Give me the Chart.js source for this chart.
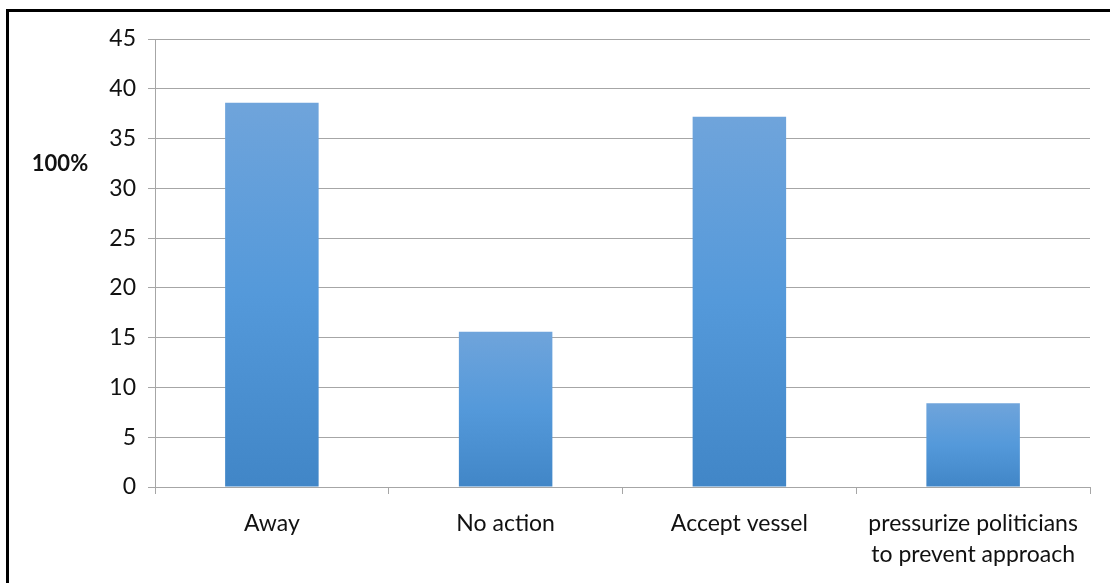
<!DOCTYPE html>
<html>
<head>
<meta charset="utf-8">
<script src="https://cdn.jsdelivr.net/npm/chart.js@4"></script>
<style>
    html, body { margin: 0; padding: 0; background: #fff; }
    #frame {
        position: absolute;
        left: 6px;
        top: 9px;
        width: 1104px;
        height: 574px;
        border-left: 3px solid #000;
        border-top: 3px solid #000;
        box-sizing: border-box;
    }
    #wrap { position: absolute; left: 0; top: 0; width: 1101px; height: 571px; }
</style>
</head>
<body>
<div id="frame">
    <div id="wrap"><canvas id="responseChart"></canvas></div>
</div>
<script>
// Chart data
const categories = ['Away', 'No action', 'Accept vessel', ['pressurize politicians', 'to prevent approach']];
const shares = [38.6, 15.6, 37.2, 8.4];
const yTicks = [0, 5, 10, 15, 20, 25, 30, 35, 40, 45];
const yLabel = '100%';

const textColor = '#111111';
const gridColor = '#a6a6a6';

// per-bar vertical gradient, lighter at the top
function barGradient(context) {
    const chart = context.chart;
    if (!chart.chartArea) return '#5499da';
    const y = chart.scales.y;
    const top = y.getPixelForValue(context.raw);
    const bottom = y.getPixelForValue(0);
    const g = chart.ctx.createLinearGradient(0, top, 0, bottom);
    g.addColorStop(0, '#6fa4db');
    g.addColorStop(0.5, '#5499da');
    g.addColorStop(1, '#4186c7');
    return g;
}

// horizontal label left of the value axis
const sideLabel = {
    id: 'sideLabel',
    afterDraw(chart) {
        const ctx = chart.ctx;
        ctx.save();
        ctx.font = 'bold 22px Lato';
        ctx.fillStyle = textColor;
        ctx.textAlign = 'center';
        ctx.textBaseline = 'middle';
        ctx.fillText(yLabel, 51, chart.scales.y.getPixelForValue(32.5));
        ctx.restore();
    }
};

new Chart(document.getElementById('responseChart'), {
    type: 'bar',
    data: {
        labels: categories,
        datasets: [{
            data: shares,
            backgroundColor: barGradient,
            borderWidth: 0,
            categoryPercentage: 1,
            barPercentage: 0.4
        }]
    },
    options: {
        responsive: true,
        maintainAspectRatio: false,
        animation: false,
        layout: { padding: { top: 27, right: 20, left: 0, bottom: 0 } },
        plugins: {
            legend: { display: false },
            tooltip: { enabled: false }
        },
        scales: {
            x: {
                grid: {
                    display: true,
                    drawOnChartArea: false,
                    drawTicks: true,
                    tickLength: 7,
                    color: gridColor,
                    offset: true
                },
                border: { display: true, color: gridColor, width: 1 },
                ticks: {
                    color: textColor,
                    font: { family: 'Lato', size: 23, lineHeight: 1.36 },
                    padding: 14,
                    maxRotation: 0,
                    autoSkip: false
                },
                afterFit(scale) { scale.height = 96; }
            },
            y: {
                min: 0,
                max: 45,
                afterBuildTicks(scale) {
                    scale.ticks = yTicks.map(v => ({ value: v }));
                },
                grid: {
                    color: gridColor,
                    lineWidth: 1,
                    tickLength: 7
                },
                border: { display: true, color: gridColor, width: 1 },
                ticks: {
                    color: textColor,
                    font: { family: 'Lato', size: 23 },
                    padding: 12
                },
                afterFit(scale) { scale.width = 146; }
            }
        }
    },
    plugins: [sideLabel]
});
</script>
</body>
</html>
